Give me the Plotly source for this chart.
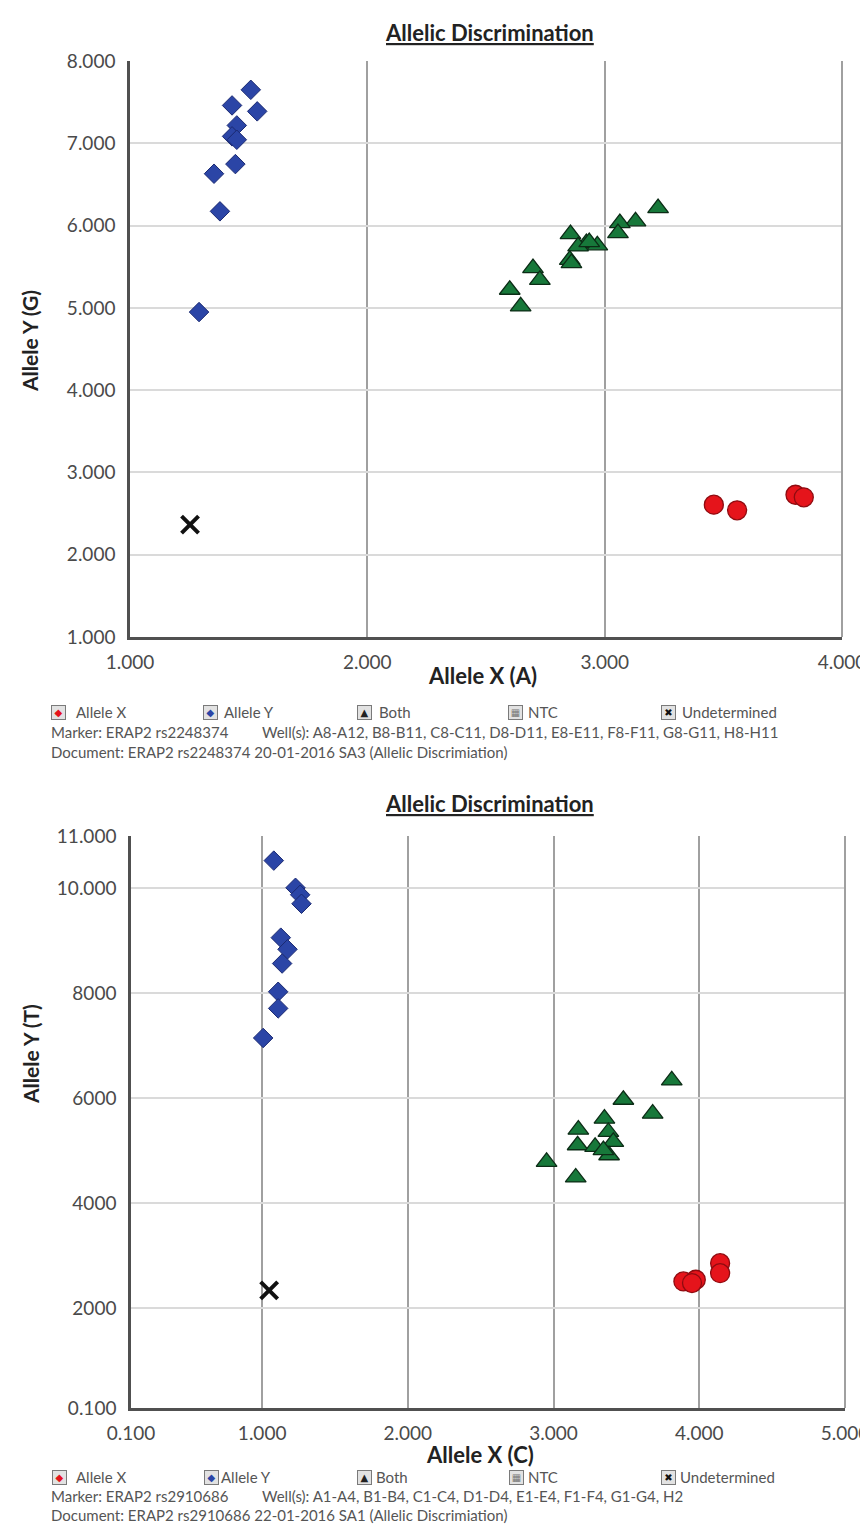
import plotly.graph_objects as go

# ---------------- DATA ----------------
# Top chart: ERAP2 rs2248374
top_allele_x_x = [3460, 3558, 3804, 3839]
top_allele_x_y = [2608, 2540, 2729, 2697]
top_allele_y_x = [1509, 1430, 1536, 1450, 1430, 1450, 1444, 1354, 1379, 1291]
top_allele_y_y = [7650, 7460, 7388, 7217, 7084, 7043, 6747, 6630, 6173, 4949]
top_both_x = [3225, 3130, 3064, 3056, 2856, 2923, 2969, 2888, 2853, 2860, 2698, 2727, 2600, 2646, 2935]
top_both_y = [6213, 6051, 6030, 5909, 5897, 5787, 5760, 5747, 5584, 5544, 5484, 5341, 5220, 5018, 5800]
top_undet_x = [1253]
top_undet_y = [2365]

top_x_ticks = [1000, 2000, 3000, 4000]
top_x_labels = ["1.000", "2.000", "3.000", "4.000"]
top_y_ticks = [1000, 2000, 3000, 4000, 5000, 6000, 7000, 8000]
top_y_labels = ["1.000", "2.000", "3.000", "4.000", "5.000", "6.000", "7.000", "8.000"]

# Bottom chart: ERAP2 rs2910686
bot_allele_x_x = [3891, 3976, 3950, 4143, 4143]
bot_allele_x_y = [2512, 2544, 2480, 2859, 2669]
bot_allele_y_x = [1080, 1229, 1261, 1270, 1128, 1174, 1137, 1110, 1110, 1007]
bot_allele_y_y = [10531, 10013, 9880, 9709, 9063, 8841, 8570, 8032, 7715, 7151]
bot_both_x = [3811, 3479, 3680, 3349, 3376, 3170, 3410, 3165, 3285, 3381, 2952, 3152, 3342]
bot_both_y = [6342, 5974, 5709, 5613, 5360, 5404, 5170, 5107, 5075, 4916, 4790, 4493, 5013]
bot_undet_x = [1048]
bot_undet_y = [2341]

bot_x_ticks = [100, 1000, 2000, 3000, 4000, 5000]
bot_x_labels = ["0.100", "1.000", "2.000", "3.000", "4.000", "5.000"]
bot_y_ticks = [100, 2000, 4000, 6000, 8000, 10000, 11000]
bot_y_labels = ["0.100", "2000", "4000", "6000", "8000", "10.000", "11.000"]

legend_names = ["Allele X", "Allele Y", "Both", "NTC", "Undetermined"]

top_title = "Allelic Discrimination"
top_xtitle = "Allele X (A)"
top_ytitle = "Allele Y (G)"
top_marker = "Marker: ERAP2 rs2248374"
top_wells = "Well(s): A8-A12, B8-B11, C8-C11, D8-D11, E8-E11, F8-F11, G8-G11, H8-H11"
top_doc = "Document: ERAP2 rs2248374 20-01-2016 SA3 (Allelic Discrimiation)"

bot_title = "Allelic Discrimination"
bot_xtitle = "Allele X (C)"
bot_ytitle = "Allele Y (T)"
bot_marker = "Marker: ERAP2 rs2910686"
bot_wells = "Well(s): A1-A4, B1-B4, C1-C4, D1-D4, E1-E4, F1-F4, G1-G4, H2"
bot_doc = "Document: ERAP2 rs2910686 22-01-2016 SA1 (Allelic Discrimiation)"

# ---------------- STYLE ----------------
W, H = 868, 1528
FONT = "Lato"
RED, BLUE, GREEN = "#E5141B", "#2B45A6", "#17783A"


def px(x):
    return x / W


def py(y):
    return 1 - y / H


def sc(x, y, symbol, color, size, lcolor, lw, xa, ya):
    return go.Scatter(
        x=x, y=y, mode="markers", xaxis=xa, yaxis=ya, showlegend=False,
        marker=dict(symbol=symbol, color=color, size=size,
                    line=dict(color=lcolor, width=lw)),
    )


fig = go.Figure()
series = {
    "top": (top_allele_y_x, top_allele_y_y, top_both_x, top_both_y,
            top_allele_x_x, top_allele_x_y, top_undet_x, top_undet_y),
    "bot": (bot_allele_y_x, bot_allele_y_y, bot_both_x, bot_both_y,
            bot_allele_x_x, bot_allele_x_y, bot_undet_x, bot_undet_y),
}
for (ax, ay, key) in [("x", "y", "top"), ("x2", "y2", "bot")]:
    ayx, ayy, bx, by, axx, axy, ux, uy = series[key]
    fig.add_trace(sc(ayx, ayy, "diamond", BLUE, 15, "#1b2a72", 1, ax, ay))
    fig.add_trace(sc(bx, by, "triangle-up", GREEN, 18, "#0c2c16", 1.3, ax, ay))
    fig.add_trace(sc(axx, axy, "circle", RED, 19, "#8f0b10", 1.3, ax, ay))
    fig.add_trace(sc(ux, uy, "x-thin", "#111", 17, "#111", 4, ax, ay))

tickfont = dict(family=FONT, size=19, color="#4a4a4a")


def xaxis(dom, ticks, labels, anchor):
    return dict(domain=dom, range=[ticks[0], ticks[-1]], tickvals=ticks, ticktext=labels,
                tickfont=tickfont, showgrid=True, gridcolor="#a0a0a0", gridwidth=1.5,
                showline=True, linecolor="#505050", linewidth=2.5, zeroline=False,
                ticks="", ticklabelstandoff=6, anchor=anchor, fixedrange=True,
                automargin=False)


def yaxis(dom, ticks, labels, anchor):
    return dict(domain=dom, range=[ticks[0], ticks[-1]], tickvals=ticks, ticktext=labels,
                tickfont=tickfont, showgrid=True, gridcolor="#dadada", gridwidth=2,
                showline=True, linecolor="#505050", linewidth=2.5, zeroline=False,
                ticks="", ticklabelstandoff=8, anchor=anchor, fixedrange=True,
                automargin=False)


fig.update_layout(
    width=W, height=H, margin=dict(l=0, r=0, t=0, b=0, pad=0, autoexpand=False),
    paper_bgcolor="white", plot_bgcolor="white",
    xaxis=xaxis([px(122), px(834)], top_x_ticks, top_x_labels, "y"),
    yaxis=yaxis([py(629), py(53)], top_y_ticks, top_y_labels, "x"),
    xaxis2=xaxis([px(123), px(837)], bot_x_ticks, bot_x_labels, "y2"),
    yaxis2=yaxis([py(1400), py(828)], bot_y_ticks, bot_y_labels, "x2"),
)

# right-hand frame of each plot area
for xr, yr in [("x", "y"), ("x2", "y2")]:
    fig.add_shape(type="line", xref=xr + " domain", yref=yr + " domain",
                  x0=1, x1=1, y0=0, y1=1, line=dict(color="#a0a0a0", width=2))

ann = []


def text(x, y, s, size=15, color="#555", bold=False, xanchor="left", angle=0, family=FONT):
    ann.append(dict(xref="paper", yref="paper", x=px(x), y=py(y), text=s, showarrow=False,
                    xanchor=xanchor, yanchor="middle", textangle=angle,
                    font=dict(family=family, size=size, color=color,
                              weight="bold" if bold else "normal")))


def box(x, y, glyph, color):
    ann.append(dict(xref="paper", yref="paper", x=px(x), y=py(y), text=glyph, showarrow=False,
                    xanchor="center", yanchor="middle", width=13, height=13,
                    bgcolor="#e2e2e2", bordercolor="#7a7a7a", borderwidth=1, borderpad=0,
                    font=dict(family="DejaVu Sans", size=10, color=color)))


def block(title, xt, yt, marker, wells, doc, ty, xtx, xty, ytx, yty, legy, offs, gap):
    text(481, ty, "<u>" + title + "</u>", size=22, color="#222", bold=True, xanchor="center")
    text(xtx, xty, xt, size=22, color="#222", bold=True, xanchor="center")
    text(ytx, yty, yt, size=21, color="#222", bold=True, xanchor="center", angle=-90)
    glyphs = [("◆", RED), ("◆", BLUE), ("▲", "#222"), ("▦", "#777"), ("✖", "#111")]
    for (ix, tx), name, (g, c) in zip(offs, legend_names, glyphs):
        box(ix, legy, g, c)
        text(tx, legy, name)
    text(41, legy + gap, marker)
    text(252, legy + gap, wells)
    text(41, legy + 2 * gap, doc)


block(top_title, top_xtitle, top_ytitle, top_marker, top_wells, top_doc,
      25, 474, 667, 22, 333, 704,
      [(50, 66), (202, 214), (356, 369), (507, 518), (660, 672)], 20)
block(bot_title, bot_xtitle, bot_ytitle, bot_marker, bot_wells, bot_doc,
      795, 472, 1446, 22, 1046, 1469,
      [(51, 66), (203, 211), (356, 366), (508, 518), (660, 670)], 19)

fig.update_layout(annotations=ann)
fig.write_html("out.html")
